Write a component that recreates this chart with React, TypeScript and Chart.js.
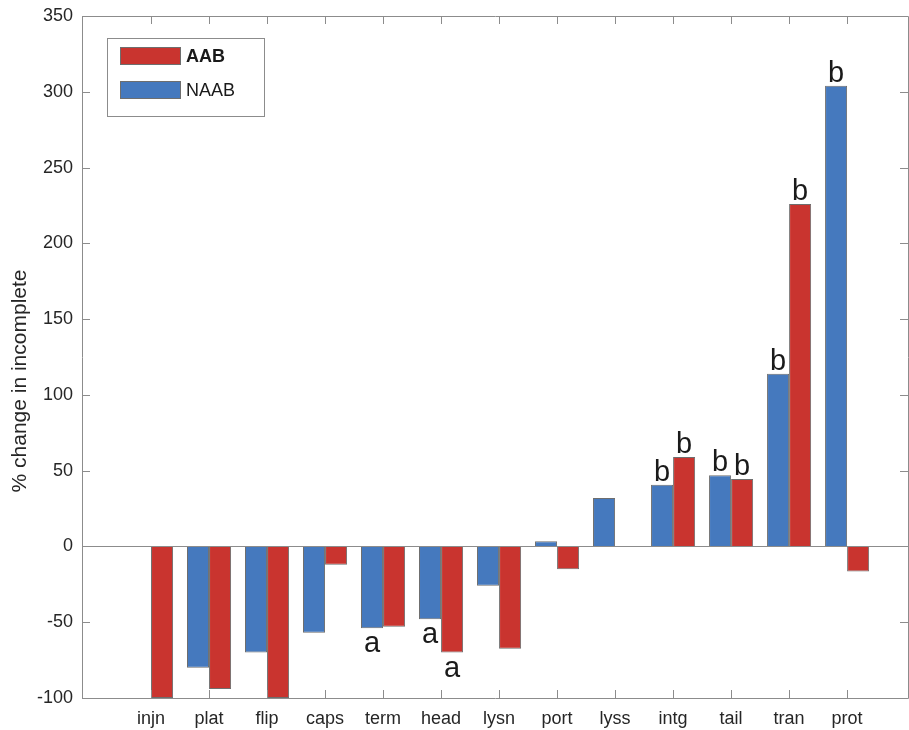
import React, { useEffect, useRef } from "react";
import { Chart, registerables } from "chart.js";

Chart.register(...registerables);

const categories = ["injn", "plat", "flip", "caps", "term", "head", "lysn", "port", "lyss", "intg", "tail", "tran", "prot"];
const naabValues: (number | null)[] = [null, -80, -70, -57, -54, -48, -26, 3.5, 32, 40.7, 47, 114, 304];
const aabValues: (number | null)[] = [-100, -94, -100, -12, -53, -70, -67.5, -15, null, 59, 44.5, 226, -16.5];
const naabMarks = ["", "", "", "", "a", "a", "", "", "", "b", "b", "b", "b"];
const aabMarks = ["", "", "", "", "", "a", "", "", "", "b", "b", "b", ""];
const yTickValues = [-100, -50, 0, 50, 100, 150, 200, 250, 300, 350];
const yTitle = "% change in incomplete";
const legendNames = ["AAB", "NAAB"];

const BLUE = "#4579BE";
const RED = "#C9342F";
const EDGE = "#6e6e6e";
const AXIS = "#8c8c8c";
const FONT = "'Liberation Sans', Arial, Helvetica, sans-serif";

const overlay = {
  id: "overlay",
  afterDatasetsDraw(chart: any) {
    const ctx = chart.ctx;
    const a = chart.chartArea;
    const xs = chart.scales.x;
    const ys = chart.scales.y;
    ctx.save();
    // baseline at zero
    ctx.strokeStyle = AXIS;
    ctx.lineWidth = 1;
    const y0 = Math.round(ys.getPixelForValue(0)) + 0.5;
    ctx.beginPath();
    ctx.moveTo(a.left, y0);
    ctx.lineTo(a.right, y0);
    ctx.stroke();
    // box
    ctx.beginPath();
    ctx.rect(Math.round(a.left) + 0.5, Math.round(a.top) + 0.5, Math.round(a.right - a.left), Math.round(a.bottom - a.top));
    ctx.stroke();
    // ticks
    const tl = 8;
    ctx.beginPath();
    yTickValues.forEach((v) => {
      const y = Math.round(ys.getPixelForValue(v)) + 0.5;
      ctx.moveTo(a.left, y);
      ctx.lineTo(a.left + tl, y);
      ctx.moveTo(a.right, y);
      ctx.lineTo(a.right - tl, y);
    });
    categories.forEach((_, i) => {
      const x = Math.round(xs.getPixelForValue(i + 1)) + 0.5;
      ctx.moveTo(x, a.bottom);
      ctx.lineTo(x, a.bottom - tl);
      ctx.moveTo(x, a.top);
      ctx.lineTo(x, a.top + tl);
    });
    ctx.stroke();

    // annotations
    ctx.fillStyle = "#1a1a1a";
    ctx.font = `29px ${FONT}`;
    ctx.textAlign = "center";
    ctx.textBaseline = "alphabetic";
    const markSets = [naabMarks, aabMarks];
    const valSets = [naabValues, aabValues];
    markSets.forEach((marks, d) => {
      const meta = chart.getDatasetMeta(d);
      marks.forEach((m, i) => {
        if (!m) return;
        const el = meta.data[i];
        const v = valSets[d][i] as number;
        if (!el) return;
        if (v >= 0) ctx.fillText(m, el.x, el.y - 4);
        else ctx.fillText(m, el.x, el.y + 24);
      });
    });

    // legend
    const lx = 107.5, ly = 38.5, lw = 157, lh = 78;
    ctx.fillStyle = "#ffffff";
    ctx.fillRect(lx, ly, lw, lh);
    ctx.strokeStyle = "#8c8c8c";
    ctx.strokeRect(lx, ly, lw, lh);
    const sw = [
      { c: RED, y: 47, name: legendNames[0], bold: true },
      { c: BLUE, y: 81, name: legendNames[1], bold: false },
    ];
    sw.forEach((s) => {
      ctx.fillStyle = s.c;
      ctx.fillRect(120, s.y, 61, 18);
      ctx.strokeStyle = EDGE;
      ctx.strokeRect(120.5, s.y + 0.5, 60, 17);
      ctx.fillStyle = "#1a1a1a";
      ctx.font = `${s.bold ? "bold " : ""}18px ${FONT}`;
      ctx.textAlign = "left";
      ctx.textBaseline = "middle";
      ctx.fillText(s.name, 186, s.y + 10);
    });

    // y title
    ctx.save();
    ctx.translate(20, 381);
    ctx.rotate(-Math.PI / 2);
    ctx.fillStyle = "#262626";
    ctx.font = `21px ${FONT}`;
    ctx.textAlign = "center";
    ctx.textBaseline = "middle";
    ctx.fillText(yTitle, 0, 0);
    ctx.restore();

    ctx.restore();
  },
};

export default function App() {
  const ref = useRef<HTMLCanvasElement>(null);
  useEffect(() => {
    document.body.style.margin = "0";
    const chart = new Chart(ref.current as HTMLCanvasElement, {
      type: "bar",
      data: {
        datasets: [
          {
            label: legendNames[1],
            data: naabValues.map((v, i) => ({ x: i + 1, y: v })) as any,
            backgroundColor: BLUE,
            borderColor: EDGE,
            borderWidth: 1,
            categoryPercentage: 0.76,
            barPercentage: 1,
          },
          {
            label: legendNames[0],
            data: aabValues.map((v, i) => ({ x: i + 1, y: v })) as any,
            backgroundColor: RED,
            borderColor: EDGE,
            borderWidth: 1,
            categoryPercentage: 0.76,
            barPercentage: 1,
          },
        ],
      },
      options: {
        animation: false,
        responsive: false,
        devicePixelRatio: 1,
        layout: { padding: { top: 16, right: 1, left: 0, bottom: 0 } },
        plugins: { legend: { display: false }, tooltip: { enabled: false } },
        scales: {
          x: {
            type: "linear",
            min: -0.19,
            max: 14.05,
            offset: false,
            grid: { display: false, drawTicks: false },
            border: { display: false },
            afterBuildTicks: (s: any) => {
              s.ticks = categories.map((_, i) => ({ value: i + 1 }));
            },
            afterFit: (s: any) => {
              s.height = 32;
              s.paddingLeft = 0;
              s.paddingRight = 0;
            },
            ticks: {
              autoSkip: false,
              maxRotation: 0,
              padding: 10,
              color: "#262626",
              font: { family: FONT, size: 18 },
              callback: (v: any) => categories[Math.round(Number(v)) - 1] ?? "",
            },
          },
          y: {
            min: -100,
            max: 350,
            grid: { display: false, drawTicks: false },
            border: { display: false },
            afterBuildTicks: (s: any) => {
              s.ticks = yTickValues.map((v) => ({ value: v }));
            },
            afterFit: (s: any) => {
              s.width = 82;
              s.paddingTop = 0;
              s.paddingBottom = 0;
            },
            ticks: {
              padding: 9,
              color: "#262626",
              font: { family: FONT, size: 18 },
            },
          },
        },
      },
      plugins: [overlay],
    });
    return () => chart.destroy();
  }, []);
  return <canvas ref={ref} width={909} height={730} style={{ display: "block" }} />;
}
